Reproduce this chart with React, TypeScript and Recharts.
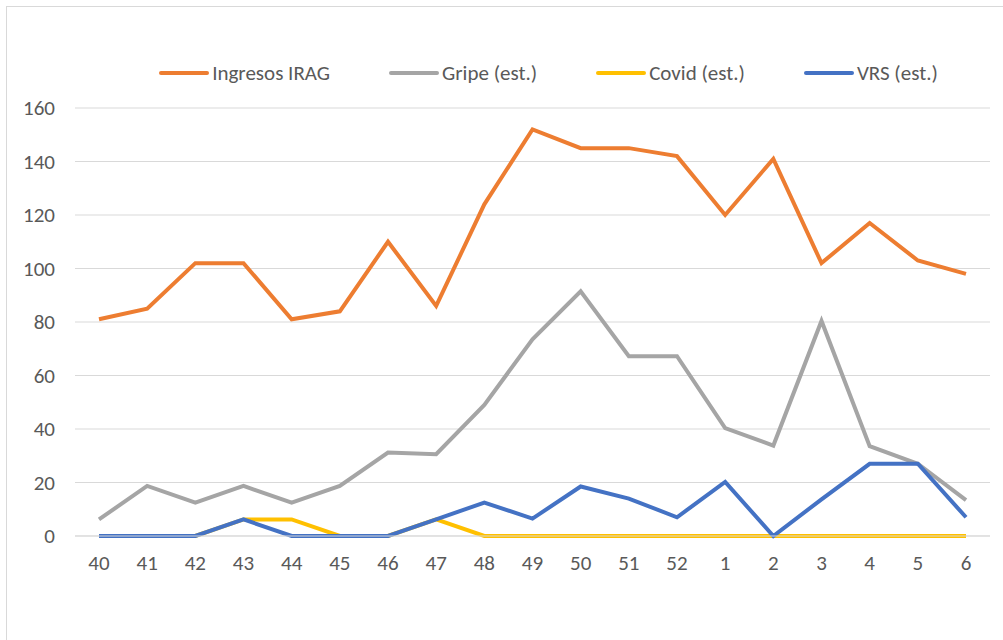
import { LineChart, Line, XAxis, YAxis, CartesianGrid, Legend } from 'recharts'

const weeks = ['40', '41', '42', '43', '44', '45', '46', '47', '48', '49', '50', '51', '52', '1', '2', '3', '4', '5', '6']
const irag = [81, 85, 102, 102, 81, 84, 110, 86, 124, 152, 145, 145, 142, 120, 141, 102, 117, 103, 98]
const gripe = [6.2, 18.7, 12.5, 18.7, 12.5, 18.7, 31.2, 30.6, 49, 73.5, 91.5, 67.2, 67.2, 40.3, 33.8, 80.4, 33.6, 27, 13.4]
const covid = [0, 0, 0, 6.2, 6.2, 0, 0, 6.2, 0, 0, 0, 0, 0, 0, 0, 0, 0, 0, 0]
const vrs = [0, 0, 0, 6.2, 0, 0, 0, 6.2, 12.5, 6.5, 18.5, 14, 7, 20.2, 0, 13.7, 27, 27, 7]
const yTicks = [0, 20, 40, 60, 80, 100, 120, 140, 160]

const series = [
  { key: 'irag', name: 'Ingresos IRAG', color: '#ED7D31' },
  { key: 'gripe', name: 'Gripe (est.)', color: '#A5A5A5' },
  { key: 'covid', name: 'Covid (est.)', color: '#FFC000' },
  { key: 'vrs', name: 'VRS (est.)', color: '#4472C4' },
]

const data = weeks.map((w, i) => ({
  week: w,
  irag: irag[i],
  gripe: gripe[i],
  covid: covid[i],
  vrs: vrs[i],
}))

const font = 'Carlito, Calibri, "Liberation Sans", sans-serif'

function LegendRow() {
  return (
    <div style={{ display: 'flex', justifyContent: 'center', gap: 59, fontFamily: font, fontSize: 21, lineHeight: '26px', color: '#595959' }}>
      {series.map((s) => (
        <div key={s.key} style={{ display: 'flex', alignItems: 'center' }}>
          <span style={{ display: 'inline-block', width: 50, height: 4.5, borderRadius: 2, background: s.color, marginRight: 3 }} />
          <span>{s.name}</span>
        </div>
      ))}
    </div>
  )
}

export default function App() {
  return (
    <div style={{ position: 'absolute', left: 0, top: 0, width: 1003, height: 640, background: '#fff', overflow: 'hidden' }}>
      <div style={{ position: 'absolute', left: 6, top: 6, width: 1100, height: 700, borderLeft: '1.5px solid #d9d9d9', borderTop: '1.5px solid #d9d9d9' }} />
      <LineChart
        width={1003}
        height={640}
        data={data}
        margin={{ top: 108, right: 13, left: 0, bottom: 74 }}
        style={{ position: 'absolute', left: 0, top: 0 }}
      >
        <CartesianGrid vertical={false} stroke="#d9d9d9" strokeWidth={1} />
        <XAxis
          dataKey="week"
          padding={{ left: 24, right: 24 }}
          axisLine={{ stroke: '#d9d9d9' }}
          tickLine={false}
          tickMargin={13}
          height={30}
          tick={{ fill: '#595959', fontSize: 21, fontFamily: font }}
          interval={0}
        />
        <YAxis
          width={75}
          domain={[0, 160]}
          ticks={yTicks}
          axisLine={false}
          tickLine={false}
          tickMargin={14}
          tick={{ fill: '#595959', fontSize: 21, fontFamily: font }}
        />
        <Legend
          verticalAlign="middle"
          layout="horizontal"
          wrapperStyle={{ top: 60, left: 91, width: 915 }}
          content={() => <LegendRow />}
        />
        {series.map((s) => (
          <Line
            key={s.key}
            dataKey={s.key}
            name={s.name}
            stroke={s.color}
            strokeWidth={4}
            dot={false}
            activeDot={false}
            type="linear"
            isAnimationActive={false}
          />
        ))}
      </LineChart>
    </div>
  )
}
